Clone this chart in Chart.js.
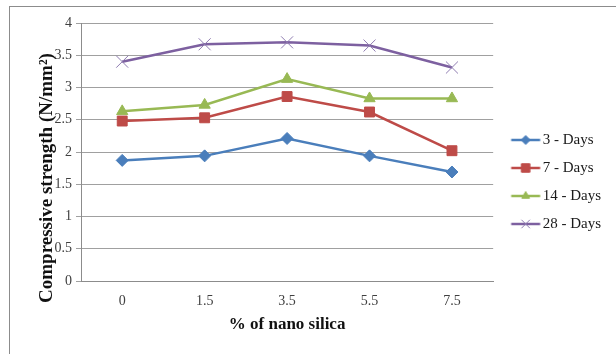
<!DOCTYPE html>
<html>
<head>
<meta charset="utf-8">
<script src="https://cdn.jsdelivr.net/npm/chart.js@4.4.1/dist/chart.umd.min.js"></script>
<style>
  html, body { margin: 0; padding: 0; background: #fff; }
  #wrap { position: relative; width: 616px; height: 354px; overflow: hidden; }
  #frame {
    position: absolute; left: 9px; top: 6px; width: 700px; height: 400px;
    border: 1px solid #8c8c8c; box-sizing: border-box;
  }
  #chart { position: absolute; left: 0; top: 0; }
</style>
</head>
<body>
<div id="wrap">
  <div id="frame"></div>
  <canvas id="chart" width="616" height="354"></canvas>
</div>
<script>
// values
const silicaPct = ['0', '1.5', '3.5', '5.5', '7.5'];
const days3  = [1.87, 1.94, 2.21, 1.94, 1.69];
const days7  = [2.48, 2.53, 2.86, 2.62, 2.02];
const days14 = [2.63, 2.73, 3.13, 2.83, 2.83];
const days28 = [3.40, 3.67, 3.70, 3.65, 3.31];

const seriesNames = ['3 - Days', '7 - Days', '14 - Days', '28 - Days'];
const seriesColors = ['#4a7ebb', '#be4b48', '#98b954', '#7d60a0'];
const seriesMarkers = ['rectRot', 'rect', 'triangle', 'crossRot'];

const yTitleText = 'Compressive strength (N/mm²)';
const xTitleText = '% of nano silica';

const SERIF = '"Liberation Serif", "Times New Roman", serif';
const SWATCH_BOX = 29; // legend pointStyleWidth

// legend swatch: line with the marker in the middle.
// the image is centred on the legend box, so it is made twice the box
// width and the line is drawn in its right-hand part
function legendSwatch(color, marker) {
  const c = document.createElement('canvas');
  c.width = SWATCH_BOX * 2; c.height = 12;
  const g = c.getContext('2d');
  const x0 = SWATCH_BOX / 2 + 5;
  const x1 = x0 + 29;
  g.strokeStyle = color;
  g.fillStyle = color;
  g.lineWidth = 2.5;
  g.beginPath();
  g.moveTo(x0, 6); g.lineTo(x1, 6);
  g.stroke();
  const h = Chart.helpers;
  if (h && h.drawPoint) {
    const r = marker === 'crossRot' ? 6 : (marker === 'rect' ? 6 : 4.5);
    g.lineWidth = 1;
    if (marker === 'crossRot') g.strokeStyle = '#8e7bb0';
    h.drawPoint(g, { pointStyle: marker, radius: r, borderWidth: 1, rotation: 0 }, (x0 + x1) / 2, 6);
  }
  return c;
}

// the y title in the reference sits lower than the centre of the axis,
// so it is drawn here instead of by the scale
const yTitlePlugin = {
  id: 'yTitle',
  afterDraw(chart) {
    const c = chart.ctx;
    c.save();
    c.translate(47, 178);
    c.rotate(-Math.PI / 2);
    c.font = 'bold 19px ' + SERIF;
    c.fillStyle = '#111';
    c.textAlign = 'center';
    c.textBaseline = 'middle';
    c.fillText(yTitleText, 0, 0);
    c.restore();
  }
};

function buildDatasets() {
  const all = [days3, days7, days14, days28];
  return all.map((vals, i) => {
    const cross = seriesMarkers[i] === 'crossRot';
    const r = { rectRot: 6, rect: 7, triangle: 6.5, crossRot: 8.5 }[seriesMarkers[i]];
    return {
      label: seriesNames[i],
      data: vals,
      borderColor: seriesColors[i],
      backgroundColor: seriesColors[i],
      pointStyle: seriesMarkers[i],
      pointRadius: r,
      pointBorderWidth: 1,
      pointBorderColor: cross ? '#8e7bb0' : seriesColors[i],
      pointBackgroundColor: seriesColors[i],
      borderWidth: 2.5,
      tension: 0,
      fill: false
    };
  });
}

function renderChart() {
  const ctx = document.getElementById('chart').getContext('2d');
  new Chart(ctx, {
    type: 'line',
    data: { labels: silicaPct, datasets: buildDatasets() },
    plugins: [yTitlePlugin],
    options: {
      responsive: false,
      animation: false,
      layout: { padding: { top: 23, right: 5, bottom: 19, left: 0 } },
      plugins: {
        tooltip: { enabled: false },
        legend: {
          position: 'right',
          // empty title only nudges the entries down a little
          title: { display: true, text: ' ', padding: 0, font: { size: 5 } },
          labels: {
            usePointStyle: true,
            pointStyleWidth: SWATCH_BOX,
            padding: 13,
            color: '#1a1a1a',
            font: { family: SERIF, size: 15 },
            generateLabels: (chart) => chart.data.datasets.map((ds, i) => ({
              text: ds.label,
              pointStyle: legendSwatch(seriesColors[i], seriesMarkers[i]),
              fillStyle: seriesColors[i],
              strokeStyle: seriesColors[i],
              lineWidth: 0,
              fontColor: '#1a1a1a',
              datasetIndex: i,
              hidden: false
            }))
          }
        }
      },
      scales: {
        x: {
          offset: true,
          grid: { display: true, drawOnChartArea: false, drawTicks: false },
          border: { display: true, color: '#8c8c8c', width: 1 },
          ticks: {
            padding: 12,
            color: '#404040',
            font: { family: SERIF, size: 14 }
          },
          title: {
            display: true,
            text: xTitleText,
            color: '#111',
            padding: { top: 0, bottom: 0 },
            font: { family: SERIF, size: 17, weight: 'bold' }
          },
          afterFit: (scale) => { scale.height = 54; }
        },
        y: {
          min: 0,
          max: 4,
          ticks: {
            stepSize: 0.5,
            padding: 4,
            color: '#404040',
            font: { family: SERIF, size: 14 },
            callback: (v) => String(Number(v))
          },
          grid: { color: '#a0a0a0', lineWidth: 1, tickLength: 5 },
          border: { display: true, color: '#8c8c8c', width: 1 },
          title: { display: false },
          afterFit: (scale) => { scale.width = 81; }
        }
      }
    }
  });
}

document.addEventListener('DOMContentLoaded', renderChart);
</script>
</body>
</html>
